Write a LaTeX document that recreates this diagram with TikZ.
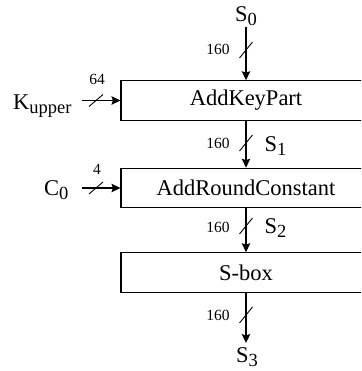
\documentclass[tikz,border=0pt]{standalone}
\usepackage{fontspec}
\setmainfont{Liberation Serif}
\usetikzlibrary{arrows.meta}
\newcommand\lowsub[1]{\lower4pt\hbox{\fontsize{18.5}{18.5}\selectfont #1}}
\begin{document}
\begin{tikzpicture}[x=1pt,y=-1pt, line width=1.1pt,
  arr/.style={-{Stealth[length=9pt,width=8.5pt,inset=1.5pt]}},
  blk/.style={draw, minimum width=250pt, minimum height=39.5pt, inner sep=0pt,
    font=\fontsize{22.5}{22.5}\selectfont},
  lbl/.style={font=\fontsize{22.5}{22.5}\selectfont, inner sep=0pt},
  num/.style={font=\fontsize{15.5}{15.5}\selectfont, inner sep=0pt},
  bustick/.style={line width=0.9pt}]
\useasboundingbox (0,0) rectangle (361,371);
\clip (0,0) rectangle (361,371);
% blocks
\node[blk] (b1) at (246,100.5) {AddKeyPart};
\node[blk] (b2) at (246,188) {AddRoundConstant};
\node[blk] (b3) at (246,272.5) {S-box};
% state labels
\node[lbl, anchor=base] (s0) at (246,22) {S\lowsub{0}};
\node[lbl, anchor=base west] (s1) at (264,152) {S\lowsub{1}};
\node[lbl, anchor=base west] (s2) at (264,233) {S\lowsub{2}};
\node[lbl, anchor=base] (s3) at (247,362) {S\lowsub{3}};
\node[lbl, anchor=base east] (ku) at (72,110) {K\lowsub{upper}};
\node[lbl, anchor=base east] (c0) at (69,195) {C\lowsub{0}};
% width labels
\node[num, anchor=base] (n0) at (218,55) {160};
\node[num, anchor=base] (n1) at (218,149) {160};
\node[num, anchor=base] (n2) at (218,232) {160};
\node[num, anchor=base] (n3) at (218,320) {160};
\node[num, anchor=base] (nk) at (97,85) {64};
\node[num, anchor=base] (nc) at (97,175) {4};
% connectors
\coordinate (kin) at (82,100.5);
\coordinate (cin) at (82,188);
\coordinate (s3top) at (246,343);
\draw[arr] (s0.south) -- (b1.north);
\draw[arr] (b1.south) -- (b2.north);
\draw[arr] (b2.south) -- (b3.north);
\draw[arr] (b3.south) -- (s3top);
\draw[arr] (kin) -- (kin -| b1.west);
\draw[arr] (cin) -- (cin -| b2.west);
% bus ticks
\coordinate (t0) at (246,50);
\coordinate (t1) at (246,143);
\coordinate (t2) at (246,226);
\coordinate (t3) at (246,315);
\coordinate (tk) at (96,100.5);
\coordinate (tc) at (96,188);
\foreach \t in {t0,t1,t2,t3}
  \draw[bustick] ([shift={(-6.5,8)}]\t) -- ([shift={(6.5,-8)}]\t);
\foreach \t in {tk,tc}
  \draw[bustick] ([shift={(-7,6)}]\t) -- ([shift={(7,-6)}]\t);
\end{tikzpicture}
\end{document}
